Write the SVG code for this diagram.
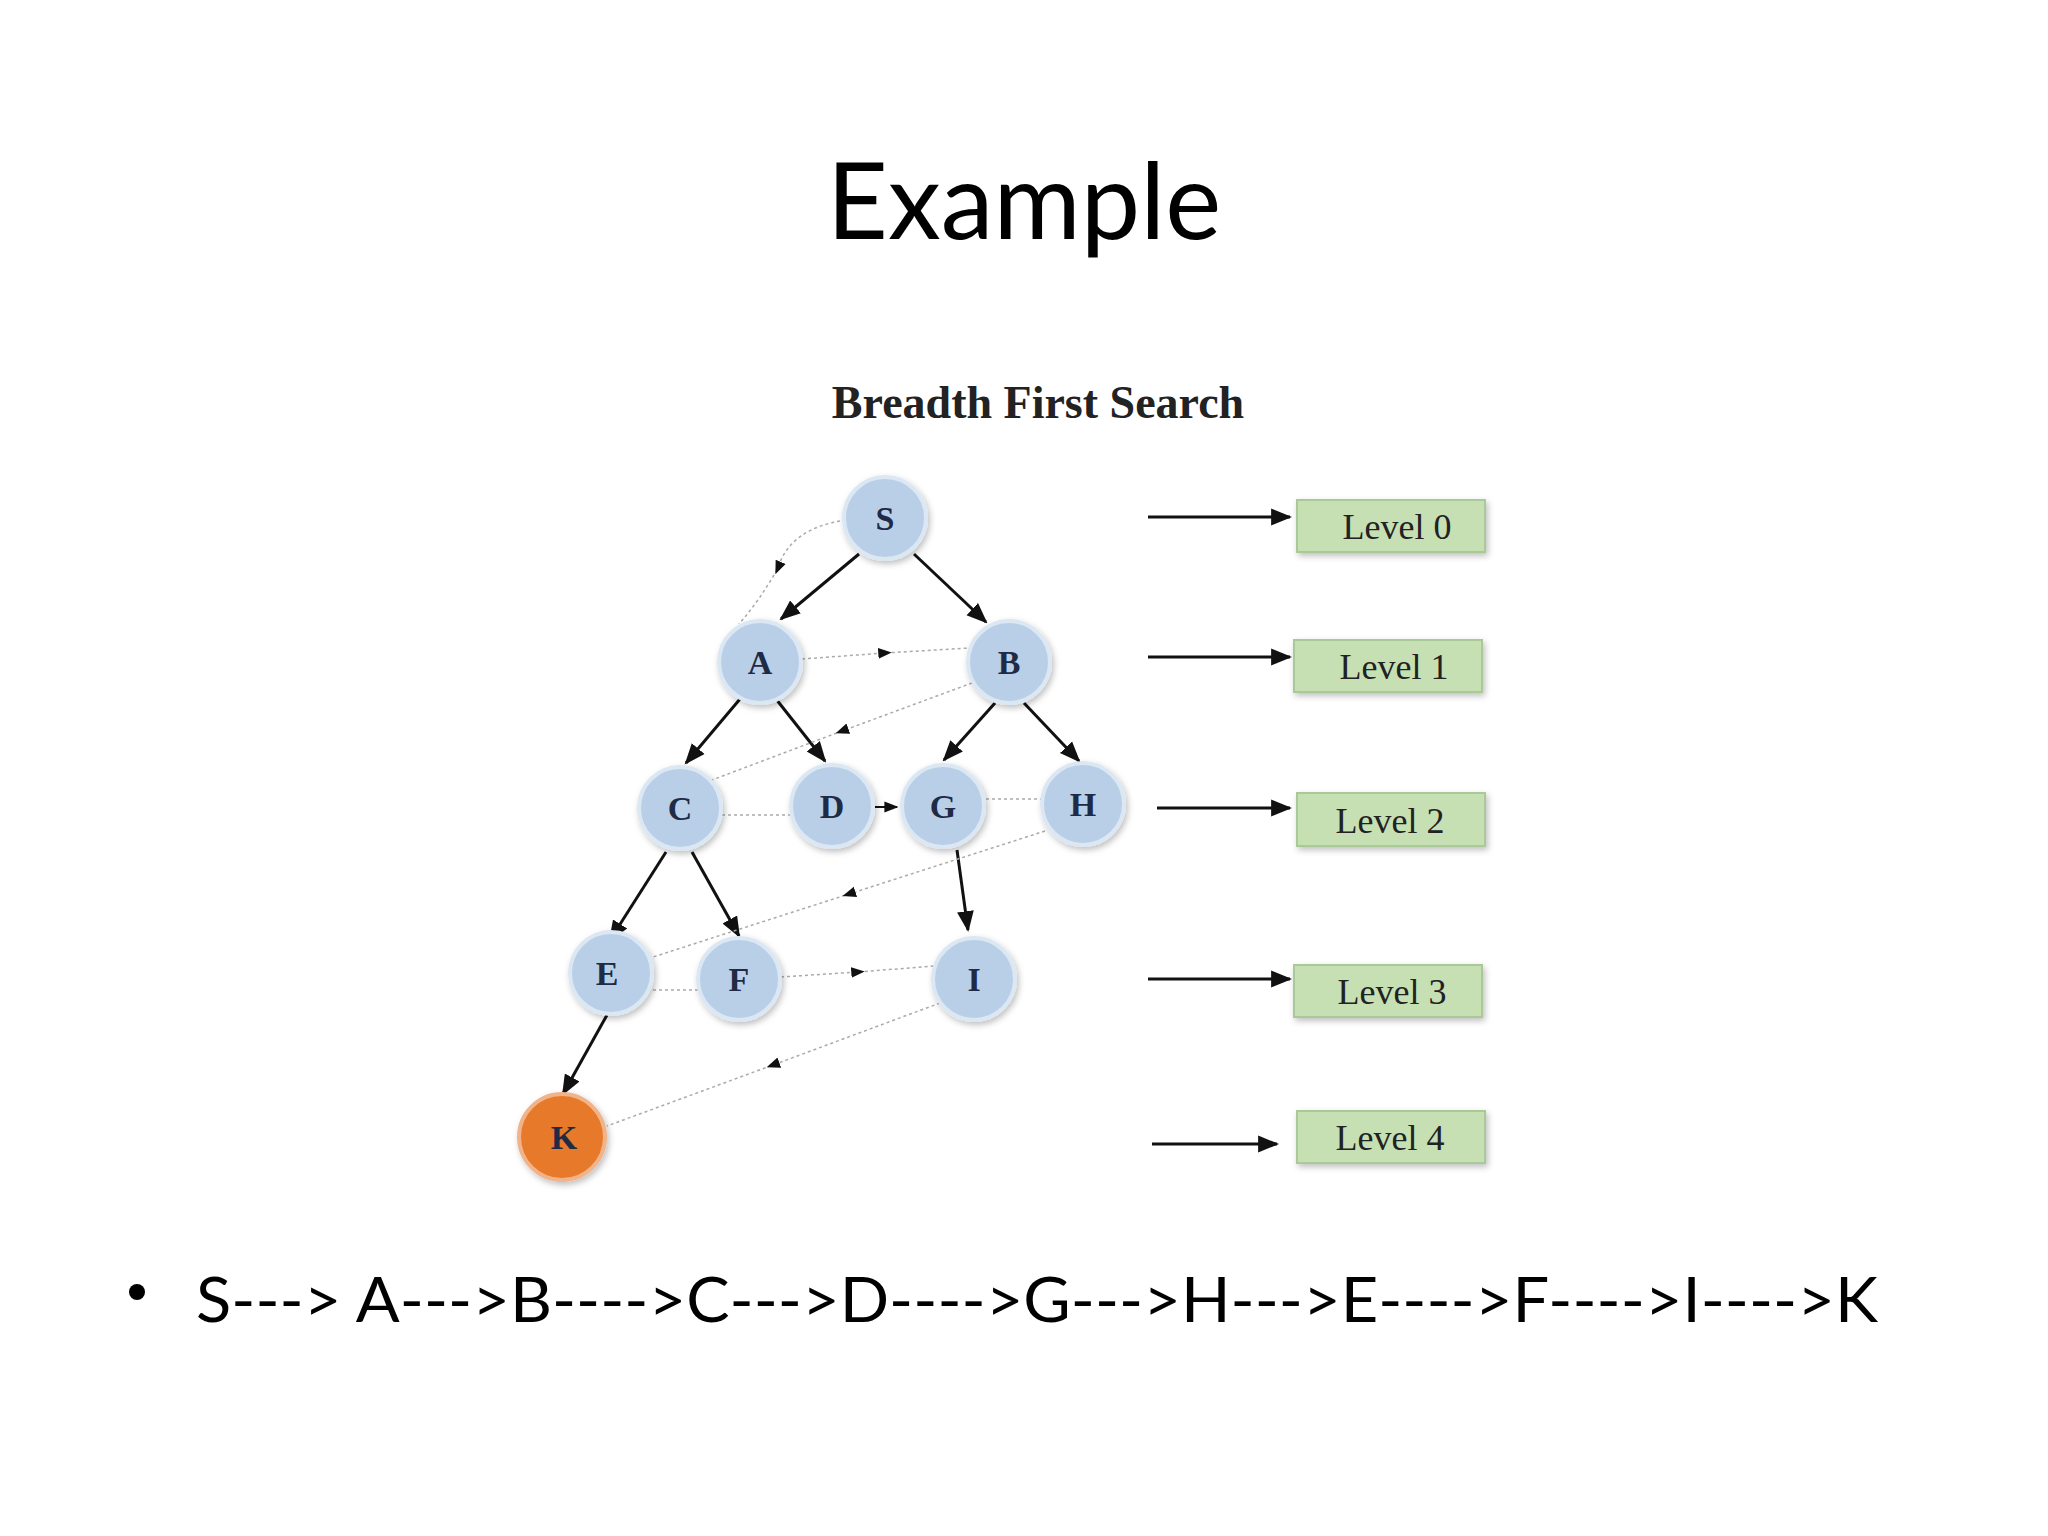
<svg xmlns="http://www.w3.org/2000/svg" width="2048" height="1536" viewBox="0 0 2048 1536">
<defs>
<marker id="ah" viewBox="0 0 10 10" refX="9" refY="5" markerWidth="7" markerHeight="7" orient="auto"><path d="M0,1 L10,5 L0,9 z" fill="#111"/></marker>
<marker id="am" viewBox="0 0 10 10" refX="5" refY="5" markerWidth="9" markerHeight="9" orient="auto"><path d="M0,1 L10,5 L0,9 z" fill="#111"/></marker>
<filter id="sh" x="-30%" y="-30%" width="160%" height="160%"><feDropShadow dx="2" dy="3" stdDeviation="3" flood-color="#000" flood-opacity="0.25"/></filter>
</defs>
<style>
.n{fill:#b9cfe8;stroke:#dbe7f3;stroke-width:4;filter:url(#sh)}
.k{fill:#e67a2c;stroke:#f1b48a;stroke-width:4;filter:url(#sh)}
.nl{font-family:"Liberation Serif",serif;font-weight:bold;font-size:34px;fill:#1f2a44;text-anchor:middle}
.e{stroke:#111;stroke-width:3;fill:none;marker-end:url(#ah)}
.d{stroke:#aaa;stroke-width:1.5;stroke-dasharray:3 3;fill:none;marker-mid:url(#am)}
.lv{fill:#c6e0b4;stroke:#a9c997;stroke-width:2;filter:url(#sh)}
.lt{font-family:"Liberation Serif",serif;font-size:36px;fill:#222;text-anchor:middle}
</style>
<rect width="2048" height="1536" fill="#fff"/>
<text x="1024" y="239" font-family="Lato,sans-serif" font-size="106" text-anchor="middle" fill="#000">Example</text>
<text x="1038" y="418" font-family="'Liberation Serif',serif" font-weight="bold" font-size="46" text-anchor="middle" fill="#222">Breadth First Search</text>
<g id="connectors">
<line class="e" x1="859" y1="554" x2="781" y2="619"/>
<line class="e" x1="914" y1="554" x2="986" y2="622"/>
<line class="e" x1="740" y1="699" x2="686" y2="763"/>
<line class="e" x1="776" y1="699" x2="825" y2="761"/>
<line class="e" x1="995" y1="703" x2="944" y2="760"/>
<line class="e" x1="1024" y1="703" x2="1079" y2="761"/>
<line class="e" x1="666" y1="852" x2="610" y2="940"/>
<line class="e" x1="692" y1="852" x2="739" y2="936"/>
<line class="e" x1="957" y1="850" x2="968" y2="930"/>
<line class="e" x1="607" y1="1015" x2="563" y2="1094"/>
<path class="d" d="M846,520 Q790,528 778,568 Q760,600 739,624"/>
<path class="d" d="M802,659 L885,653 L969,648"/>
<path class="d" d="M972,683 L842,731 L712,780"/>
<path class="d" d="M722,815 L793,815"/>
<line x1="875" y1="807" x2="897" y2="807" stroke="#111" stroke-width="2" marker-end="url(#ah)"/>
<path class="d" d="M986,799 L1042,799"/>
<path class="d" d="M1045,831 L849,894 L653,957"/>
<path class="d" d="M653,990 L699,990"/>
<path class="d" d="M781,977 L858,972 L935,966"/>
<path class="d" d="M940,1003 L773,1065 L607,1126"/>
<line class="e" x1="1148" y1="517" x2="1290" y2="517"/>
<line class="e" x1="1148" y1="657" x2="1290" y2="657"/>
<line class="e" x1="1157" y1="808" x2="1290" y2="808"/>
<line class="e" x1="1148" y1="979" x2="1290" y2="979"/>
<line class="e" x1="1152" y1="1144" x2="1277" y2="1144"/>
</g>
<g id="S"><circle class="n" cx="885" cy="518" r="41"/><text class="nl" x="885" y="530">S</text></g>
<g id="A"><circle class="n" cx="760" cy="662" r="41"/><text class="nl" x="760" y="674">A</text></g>
<g id="B"><circle class="n" cx="1009" cy="662" r="41"/><text class="nl" x="1009" y="674">B</text></g>
<g id="C"><circle class="n" cx="680" cy="808" r="41"/><text class="nl" x="680" y="820">C</text></g>
<g id="D"><circle class="n" cx="832" cy="806" r="41"/><text class="nl" x="832" y="818">D</text></g>
<g id="G"><circle class="n" cx="943" cy="806" r="41"/><text class="nl" x="943" y="818">G</text></g>
<g id="H"><circle class="n" cx="1083" cy="804" r="41"/><text class="nl" x="1083" y="816">H</text></g>
<g id="E"><circle class="n" cx="611" cy="973" r="41"/><text class="nl" x="607" y="985">E</text></g>
<g id="F"><circle class="n" cx="739" cy="979" r="41"/><text class="nl" x="739" y="991">F</text></g>
<g id="I"><circle class="n" cx="974" cy="979" r="41"/><text class="nl" x="974" y="991">I</text></g>
<g id="K"><circle class="k" cx="562" cy="1137" r="43"/><text class="nl" x="564" y="1149">K</text></g>
<g id="L0"><rect class="lv" x="1297" y="500" width="188" height="52"/><text class="lt" x="1397" y="539">Level 0</text></g>
<g id="L1"><rect class="lv" x="1294" y="640" width="188" height="52"/><text class="lt" x="1394" y="679">Level 1</text></g>
<g id="L2"><rect class="lv" x="1297" y="793" width="188" height="53"/><text class="lt" x="1390" y="833">Level 2</text></g>
<g id="L3"><rect class="lv" x="1294" y="965" width="188" height="52"/><text class="lt" x="1392" y="1004">Level 3</text></g>
<g id="L4"><rect class="lv" x="1297" y="1111" width="188" height="52"/><text class="lt" x="1390" y="1150">Level 4</text></g>
<circle cx="137" cy="1292" r="8" fill="#000"/>
<text x="196" y="1322" font-family="Lato,sans-serif" font-size="62" fill="#000" textLength="1682" lengthAdjust="spacingAndGlyphs">S---&gt; A---&gt;B----&gt;C---&gt;D----&gt;G---&gt;H---&gt;E----&gt;F----&gt;I----&gt;K</text>
</svg>
